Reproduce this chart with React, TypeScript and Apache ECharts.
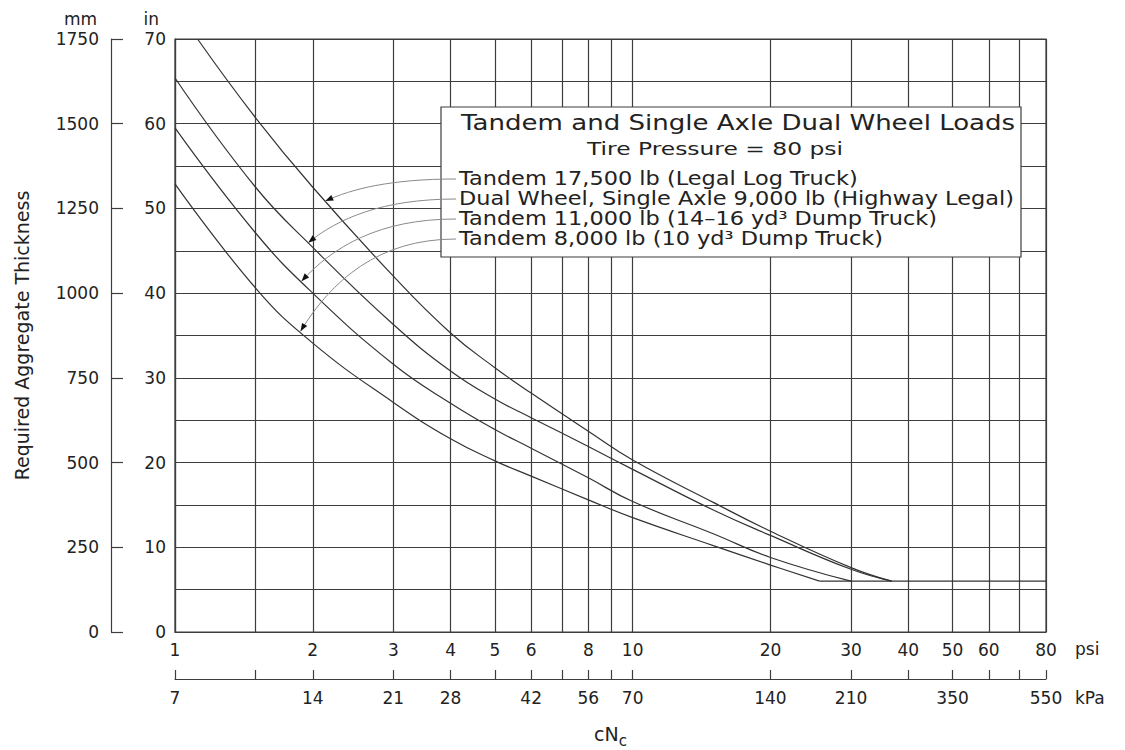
import React, { useEffect, useRef } from 'react';
import * as echarts from 'echarts';

// ---------- data ----------
const seriesNames = [
  'Tandem 17,500 lb (Legal Log Truck)',
  'Dual Wheel, Single Axle 9,000 lb (Highway Legal)',
  'Tandem 11,000 lb (14–16 yd³ Dump Truck)',
  'Tandem 8,000 lb (10 yd³ Dump Truck)',
];

// x = cNc (psi), y = required aggregate thickness (in)
const tandem17500Psi = [1.12, 1.5, 2, 3, 4, 5, 6, 8, 10, 15, 20, 30, 36.8];
const tandem17500In = [70, 60.7, 52.5, 42.0, 35.3, 31.2, 28.2, 23.7, 20.3, 15.3, 11.9, 7.6, 6.0];

const dual9000Psi = [1, 1.5, 2, 3, 4, 5, 6, 8, 10, 15, 20, 30, 36.8];
const dual9000In = [65.4, 52.5, 45.4, 36.3, 30.8, 27.5, 25.3, 21.9, 19.2, 14.4, 11.4, 7.4, 6.0];

const tandem11000Psi = [1, 1.5, 2, 3, 4, 5, 6, 8, 10, 15, 20, 30];
const tandem11000In = [59.5, 47.1, 40.0, 31.6, 27.0, 23.9, 21.7, 18.2, 15.4, 11.6, 8.8, 6.0];

const tandem8000Psi = [1, 1.5, 2, 3, 4, 5, 6, 8, 10, 15, 20, 25.6];
const tandem8000In = [52.9, 40.6, 34.1, 27.1, 22.8, 20.2, 18.4, 15.6, 13.5, 10.2, 7.9, 6.0];

// minimum thickness plateau
const minThicknessPsi = [25.6, 80];
const minThicknessIn = [6, 6];

// axes
const gridPsi = [1, 1.5, 2, 3, 4, 5, 6, 7, 8, 9, 10, 20, 30, 40, 50, 60, 70, 80];
const psiLabels = [1, 2, 3, 4, 5, 6, 8, 10, 20, 30, 40, 50, 60, 80];
const kpaLabelPsi = [1, 2, 3, 4, 6, 8, 10, 20, 30, 50, 80];
const kpaLabels = ['7', '14', '21', '28', '42', '56', '70', '140', '210', '350', '550'];

// legend leader arrows: psi position of each arrow on its curve
const arrowPsi = [2.13, 1.955, 1.89, 1.88];

// ---------- styles ----------
const FONT = '"DejaVu Sans", "Liberation Sans", sans-serif';
const INK = '#222';
const GRIDC = '#3d3d3d';
const CURVEC = '#333';

const curves = [
  { name: seriesNames[0], psi: tandem17500Psi, inch: tandem17500In },
  { name: seriesNames[1], psi: dual9000Psi, inch: dual9000In },
  { name: seriesNames[2], psi: tandem11000Psi, inch: tandem11000In },
  { name: seriesNames[3], psi: tandem8000Psi, inch: tandem8000In },
];

function interpAt(psi: number[], inch: number[], x: number): number {
  for (let i = 0; i < psi.length - 1; i++) {
    if (x >= psi[i] && x <= psi[i + 1]) {
      const t = (Math.log(x) - Math.log(psi[i])) / (Math.log(psi[i + 1]) - Math.log(psi[i]));
      return inch[i] + t * (inch[i + 1] - inch[i]);
    }
  }
  return inch[inch.length - 1];
}

function nearestIndex(list: number[], v: number): number {
  let best = 0;
  let bd = Infinity;
  list.forEach((p, i) => {
    const d = Math.abs(Math.log(p) - Math.log(v));
    if (d < bd) {
      bd = d;
      best = i;
    }
  });
  return best;
}

const labelStyle = { fontSize: 17, color: INK, fontFamily: FONT };

export default function App() {
  const ref = useRef<HTMLDivElement>(null);

  useEffect(() => {
    const chart = echarts.init(ref.current!, null, { renderer: 'svg' });

    const option: any = {
      animation: false,
      backgroundColor: '#fff',
      textStyle: { fontFamily: FONT, color: INK },
      grid: {
        left: 175,
        right: 79,
        top: 39,
        bottom: 118,
        outerBoundsMode: 'none',
        containLabel: false,
        show: true,
        borderColor: GRIDC,
        borderWidth: 1.2,
        backgroundColor: 'transparent',
      },
      xAxis: [
        {
          type: 'log',
          logBase: 10,
          min: 1,
          max: 80,
          position: 'bottom',
          name: 'psi',
          nameLocation: 'end',
          nameGap: 29,
          nameTextStyle: { ...labelStyle, verticalAlign: 'top', padding: [8, 0, 0, 0] },
          axisLine: { show: true, onZero: false, lineStyle: { color: GRIDC, width: 1.2 } },
          axisTick: { show: false, customValues: gridPsi },
          axisLabel: {
            ...labelStyle,
            customValues: psiLabels,
            margin: 9,
            formatter: (v: number) => String(psiLabels[nearestIndex(psiLabels, v)]),
          },
          splitLine: { show: true, lineStyle: { color: GRIDC, width: 1.2 } },
          minorTick: { show: false },
          minorSplitLine: { show: false },
        },
        {
          type: 'log',
          logBase: 10,
          min: 1,
          max: 80,
          position: 'bottom',
          offset: 47,
          name: 'kPa',
          nameLocation: 'end',
          nameGap: 29,
          nameTextStyle: { ...labelStyle, verticalAlign: 'top', padding: [10, 0, 0, 0] },
          axisLine: { show: true, onZero: false, lineStyle: { color: GRIDC, width: 1.2 } },
          axisTick: { show: true, inside: true, length: 9, customValues: gridPsi, lineStyle: { color: GRIDC, width: 1.2 } },
          axisLabel: {
            ...labelStyle,
            customValues: kpaLabelPsi,
            margin: 10,
            formatter: (v: number) => kpaLabels[nearestIndex(kpaLabelPsi, v)],
          },
          splitLine: { show: false },
          minorTick: { show: false },
        },
        {
          type: 'value',
          min: 0,
          max: 1,
          position: 'bottom',
          offset: 47,
          name: '{n|cN}{sub|c}',
          nameLocation: 'middle',
          nameGap: 45,
          nameTextStyle: {
            fontSize: 19,
            color: INK,
            fontFamily: FONT,
            verticalAlign: 'top',
            rich: {
              n: { fontSize: 19, lineHeight: 22, verticalAlign: 'top', color: INK, fontFamily: FONT },
              sub: { fontSize: 15, lineHeight: 24, verticalAlign: 'bottom', color: INK, fontFamily: FONT },
            },
          },
          axisLine: { show: false },
          axisTick: { show: false },
          axisLabel: { show: false },
          splitLine: { show: false },
        },
      ],
      yAxis: [
        {
          type: 'value',
          min: 0,
          max: 70,
          interval: 5,
          position: 'left',
          name: 'in',
          nameLocation: 'end',
          nameGap: 12,
          nameTextStyle: { ...labelStyle, align: 'right', padding: [0, 16, 0, 0] },
          axisLine: { show: true, onZero: false, lineStyle: { color: GRIDC, width: 1.2 } },
          axisTick: { show: false },
          axisLabel: {
            ...labelStyle,
            margin: 9,
            formatter: (v: number) => (Math.round(v) % 10 === 0 ? String(Math.round(v)) : ''),
          },
          splitLine: { show: true, lineStyle: { color: GRIDC, width: 1.2 } },
        },
        {
          type: 'value',
          min: 0,
          max: 1750,
          interval: 250,
          position: 'left',
          offset: 64,
          name: 'mm',
          nameLocation: 'end',
          nameGap: 12,
          nameTextStyle: { ...labelStyle, align: 'right', padding: [0, 14, 0, 0] },
          axisLine: { show: true, onZero: false, lineStyle: { color: GRIDC, width: 1.2 } },
          axisTick: { show: true, inside: true, length: 12, lineStyle: { color: GRIDC, width: 1.2 } },
          axisLabel: { ...labelStyle, margin: 12, formatter: (v: number) => String(Math.round(v)) },
          splitLine: { show: false },
        },
        {
          type: 'value',
          min: 0,
          max: 1,
          position: 'left',
          offset: 64,
          name: 'Required Aggregate Thickness',
          nameLocation: 'middle',
          nameGap: 80,
          nameTextStyle: { fontSize: 19, color: INK, fontFamily: FONT },
          axisLine: { show: false },
          axisTick: { show: false },
          axisLabel: { show: false },
          splitLine: { show: false },
        },
      ],
      series: [
        ...curves.map((c) => ({
          type: 'line',
          name: c.name,
          xAxisIndex: 0,
          yAxisIndex: 0,
          data: c.psi.map((p, i) => [p, c.inch[i]]),
          smooth: 0.45,
          showSymbol: false,
          symbol: 'none',
          silent: true,
          z: 3,
          lineStyle: { color: CURVEC, width: 1.2 },
        })),
        {
          type: 'line',
          name: 'Minimum thickness',
          xAxisIndex: 0,
          yAxisIndex: 0,
          data: minThicknessPsi.map((p, i) => [p, minThicknessIn[i]]),
          showSymbol: false,
          symbol: 'none',
          silent: true,
          z: 3,
          lineStyle: { color: CURVEC, width: 1.2 },
        },
      ],
    };

    chart.setOption(option);

    // ---------- legend box & leaders ----------
    const boxX = 441;
    const boxY = 107;
    const boxW = 580;
    const boxH = 150;
    const entryX = 459;
    const entryY = [179, 199, 219, 239];

    const elements: any[] = [
      {
        type: 'rect',
        z: 100,
        shape: { x: boxX, y: boxY, width: boxW, height: boxH },
        style: { fill: '#fff', stroke: GRIDC, lineWidth: 1.2 },
      },
      {
        type: 'text',
        z: 101,
        x: 461,
        y: 123,
        scaleX: 1.24,
        style: {
          text: 'Tandem and Single Axle Dual Wheel Loads',
          fontSize: 21,
          fontFamily: FONT,
          fill: INK,
          textAlign: 'left',
          textVerticalAlign: 'middle',
        },
      },
      {
        type: 'text',
        z: 101,
        x: 587,
        y: 149,
        scaleX: 1.3,
        style: {
          text: 'Tire Pressure = 80 psi',
          fontSize: 18,
          fontFamily: FONT,
          fill: INK,
          textAlign: 'left',
          textVerticalAlign: 'middle',
        },
      },
    ];

    seriesNames.forEach((name, i) => {
      elements.push({
        type: 'text',
        z: 101,
        x: entryX,
        y: entryY[i],
        scaleX: 1.18,
        style: {
          text: name,
          fontSize: 19,
          fontFamily: FONT,
          fill: INK,
          textAlign: 'left',
          textVerticalAlign: 'middle',
        },
      });
    });

    curves.forEach((c, i) => {
      const xPsi = arrowPsi[i];
      const yIn = interpAt(c.psi, c.inch, xPsi);
      const end = chart.convertToPixel({ xAxisIndex: 0, yAxisIndex: 0 }, [xPsi, yIn]) as number[];
      const sx = entryX - 3;
      const sy = entryY[i];
      const dx = sx - end[0];
      const dy = end[1] - sy;
      const cp1 = [sx - 0.5 * dx, sy];
      const cp2 = [end[0] + 0.2 * dx, end[1] - 0.55 * dy];
      elements.push({
        type: 'bezierCurve',
        z: 102,
        shape: {
          x1: sx,
          y1: sy,
          x2: end[0],
          y2: end[1],
          cpx1: cp1[0],
          cpy1: cp1[1],
          cpx2: cp2[0],
          cpy2: cp2[1],
        },
        style: { stroke: '#8a8a8a', lineWidth: 1, fill: null },
      });
      // arrow head
      let tx = end[0] - cp2[0];
      let ty = end[1] - cp2[1];
      const len = Math.sqrt(tx * tx + ty * ty) || 1;
      tx /= len;
      ty /= len;
      const L = 8;
      const W = 3;
      const bx = end[0] - tx * L;
      const by = end[1] - ty * L;
      elements.push({
        type: 'polygon',
        z: 103,
        shape: {
          points: [
            [end[0], end[1]],
            [bx - ty * W, by + tx * W],
            [bx + ty * W, by - tx * W],
          ],
        },
        style: { fill: '#111' },
      });
    });

    chart.setOption({ graphic: { elements } });

    return () => chart.dispose();
  }, []);

  return (
    <div
      ref={ref}
      style={{ position: 'fixed', left: 0, top: 0, width: 1125, height: 750, background: '#fff' }}
    />
  );
}
